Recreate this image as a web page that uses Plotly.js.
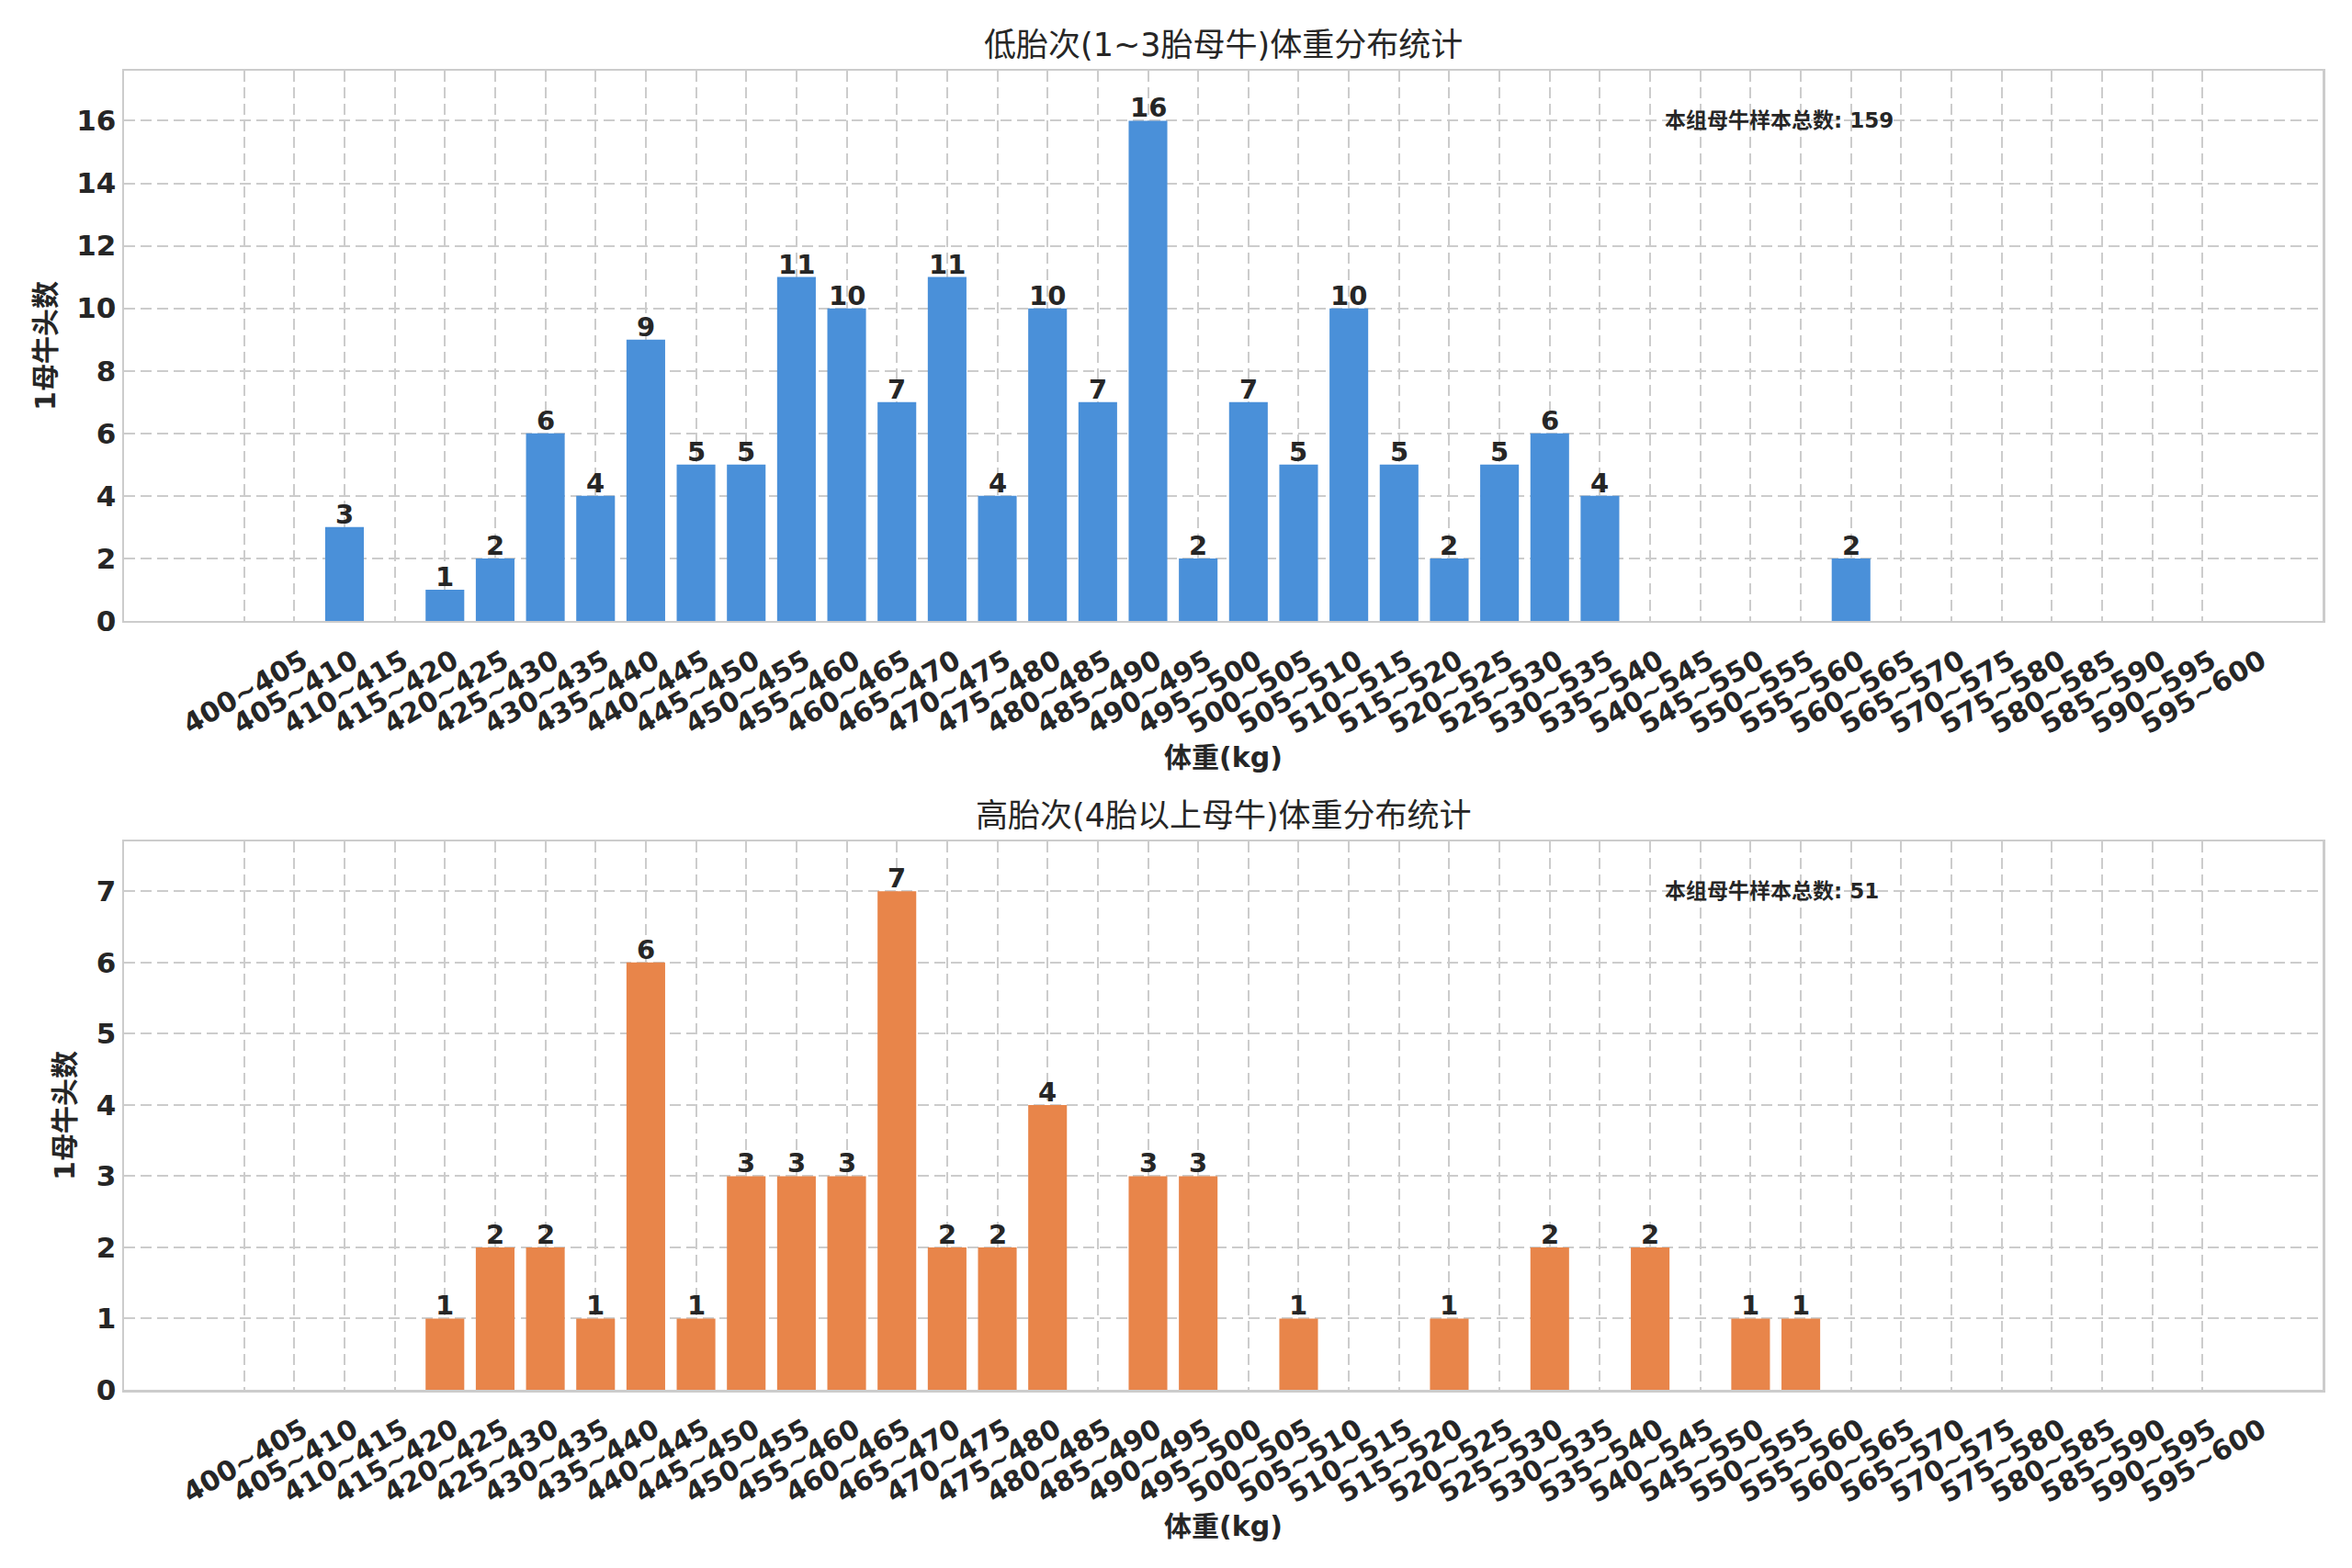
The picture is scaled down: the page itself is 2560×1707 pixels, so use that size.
<!DOCTYPE html>
<html>
<head>
<meta charset="utf-8">
<script src="https://cdn.plot.ly/plotly-3.0.1.min.js"></script>
<style>
    html, body { margin: 0; padding: 0; background: #ffffff; }
    #chart { width: 2560px; height: 1707px; }
</style>
</head>
<body>
<div id="chart"></div>
<script>
// weight bins, 5 kg wide
var bins = ['400~405', '405~410', '410~415', '415~420', '420~425', '425~430', '430~435', '435~440',
    '440~445', '445~450', '450~455', '455~460', '460~465', '465~470', '470~475', '475~480',
    '480~485', '485~490', '490~495', '495~500', '500~505', '505~510', '510~515', '515~520',
    '520~525', '525~530', '530~535', '535~540', '540~545', '545~550', '550~555', '555~560',
    '560~565', '565~570', '570~575', '575~580', '580~585', '585~590', '590~595', '595~600'];

// parity 1~3
var lowParity = [0, 0, 3, 0, 1, 2, 6, 4, 9, 5, 5, 11, 10, 7, 11, 4,
    10, 7, 16, 2, 7, 5, 10, 5, 2, 5, 6, 4, 0, 0, 0, 0,
    2, 0, 0, 0, 0, 0, 0, 0];

// parity 4+
var highParity = [0, 0, 0, 0, 1, 2, 2, 1, 6, 1, 3, 3, 3, 7, 2, 2,
    4, 0, 3, 3, 0, 1, 0, 0, 1, 0, 2, 0, 2, 0, 1, 1,
    0, 0, 0, 0, 0, 0, 0, 0];

var titleTop = '低胎次(1~3胎母牛)体重分布统计';
var titleBottom = '高胎次(4胎以上母牛)体重分布统计';
var xLabel = '体重(kg)';
var yLabel = '1母牛头数';
var totalLabel = '本组母牛样本总数';

var fontFamily = '"DejaVu Sans", "Noto Sans CJK SC", sans-serif';
var textColor = '#262626';
var gridColor = '#cccccc';

function total(arr) {
    return arr.reduce(function (a, b) { return a + b; }, 0);
}

function barTrace(values, color, xa, ya) {
    return {
        type: 'bar',
        x: bins,
        y: values,
        xaxis: xa,
        yaxis: ya,
        width: 0.77,
        marker: { color: color, line: { width: 0 } },
        hoverinfo: 'x+y',
        showlegend: false
    };
}

// value labels sitting on top of each non-empty bar
function valueLabels(values, xa, ya) {
    var out = [];
    for (var i = 0; i < values.length; i++) {
        if (values[i] > 0) {
            out.push({
                text: String(values[i]), showarrow: false,
                xref: xa, yref: ya, x: bins[i], y: values[i],
                yanchor: 'bottom', yshift: -5,
                font: { family: fontFamily, size: 29, color: textColor, weight: 'bold' }
            });
        }
    }
    return out;
}

function xAxis(anchor) {
    return {
        anchor: anchor,
        type: 'category',
        range: [-2.39, 41.39],
        tickangle: -30,
        ticks: '',
        ticklabelshift: 64,
        ticklabelstandoff: 12,
        tickfont: { family: fontFamily, size: 30, color: textColor, weight: 'bold' },
        showgrid: true,
        gridcolor: gridColor,
        gridwidth: 2,
        griddash: '12px,6px',
        showline: true,
        mirror: true,
        linecolor: gridColor,
        linewidth: 2.5,
        zeroline: false,
        title: {
            text: xLabel,
            standoff: 10,
            font: { family: fontFamily, size: 30, color: textColor, weight: 'bold' }
        }
    };
}

function yAxis(anchor, domain, maxVal, step) {
    return {
        anchor: anchor,
        domain: domain,
        range: [0, maxVal * 1.1],
        dtick: step,
        tick0: 0,
        ticks: '',
        tickfont: { family: fontFamily, size: 31, color: textColor, weight: 'bold' },
        showgrid: true,
        gridcolor: gridColor,
        gridwidth: 2,
        griddash: '12px,6px',
        showline: true,
        mirror: true,
        linecolor: gridColor,
        linewidth: 2.5,
        zeroline: false,
        title: {
            text: yLabel,
            standoff: 14,
            font: { family: fontFamily, size: 30, color: textColor, weight: 'bold' }
        }
    };
}

var data = [
    barTrace(lowParity, '#4a90d9', 'x', 'y'),
    barTrace(highParity, '#e8854a', 'x2', 'y2')
];

var notes = [
    {
        text: titleTop, showarrow: false,
        xref: 'paper', yref: 'paper', x: 0.5, y: 1, yanchor: 'bottom', yshift: 6,
        font: { family: fontFamily, size: 35, color: textColor }
    },
    {
        text: titleBottom, showarrow: false,
        xref: 'paper', yref: 'y2 domain', x: 0.5, y: 1, yanchor: 'bottom', yshift: 6,
        font: { family: fontFamily, size: 35, color: textColor }
    },
    {
        text: totalLabel + ': ' + total(lowParity), showarrow: false,
        xref: 'x domain', yref: 'y domain', x: 0.70, y: 0.91, xanchor: 'left', yanchor: 'middle',
        font: { family: fontFamily, size: 23, color: textColor, weight: 'bold' }
    },
    {
        text: totalLabel + ': ' + total(highParity), showarrow: false,
        xref: 'x2 domain', yref: 'y2 domain', x: 0.70, y: 0.91, xanchor: 'left', yanchor: 'middle',
        font: { family: fontFamily, size: 23, color: textColor, weight: 'bold' }
    }
].concat(valueLabels(lowParity, 'x', 'y'), valueLabels(highParity, 'x2', 'y2'));

var layout = {
    width: 2560,
    height: 1707,
    paper_bgcolor: '#ffffff',
    plot_bgcolor: '#ffffff',
    margin: { l: 135, r: 32, t: 77, b: 194 },
    font: { family: fontFamily, color: textColor },
    xaxis: xAxis('y'),
    yaxis: yAxis('x', [0.5829, 1], Math.max.apply(null, lowParity), 2),
    xaxis2: xAxis('y2'),
    yaxis2: yAxis('x2', [0, 0.4157], Math.max.apply(null, highParity), 1),
    annotations: notes
};

Plotly.newPlot('chart', data, layout, { displayModeBar: false, staticPlot: true });
</script>
</body>
</html>
